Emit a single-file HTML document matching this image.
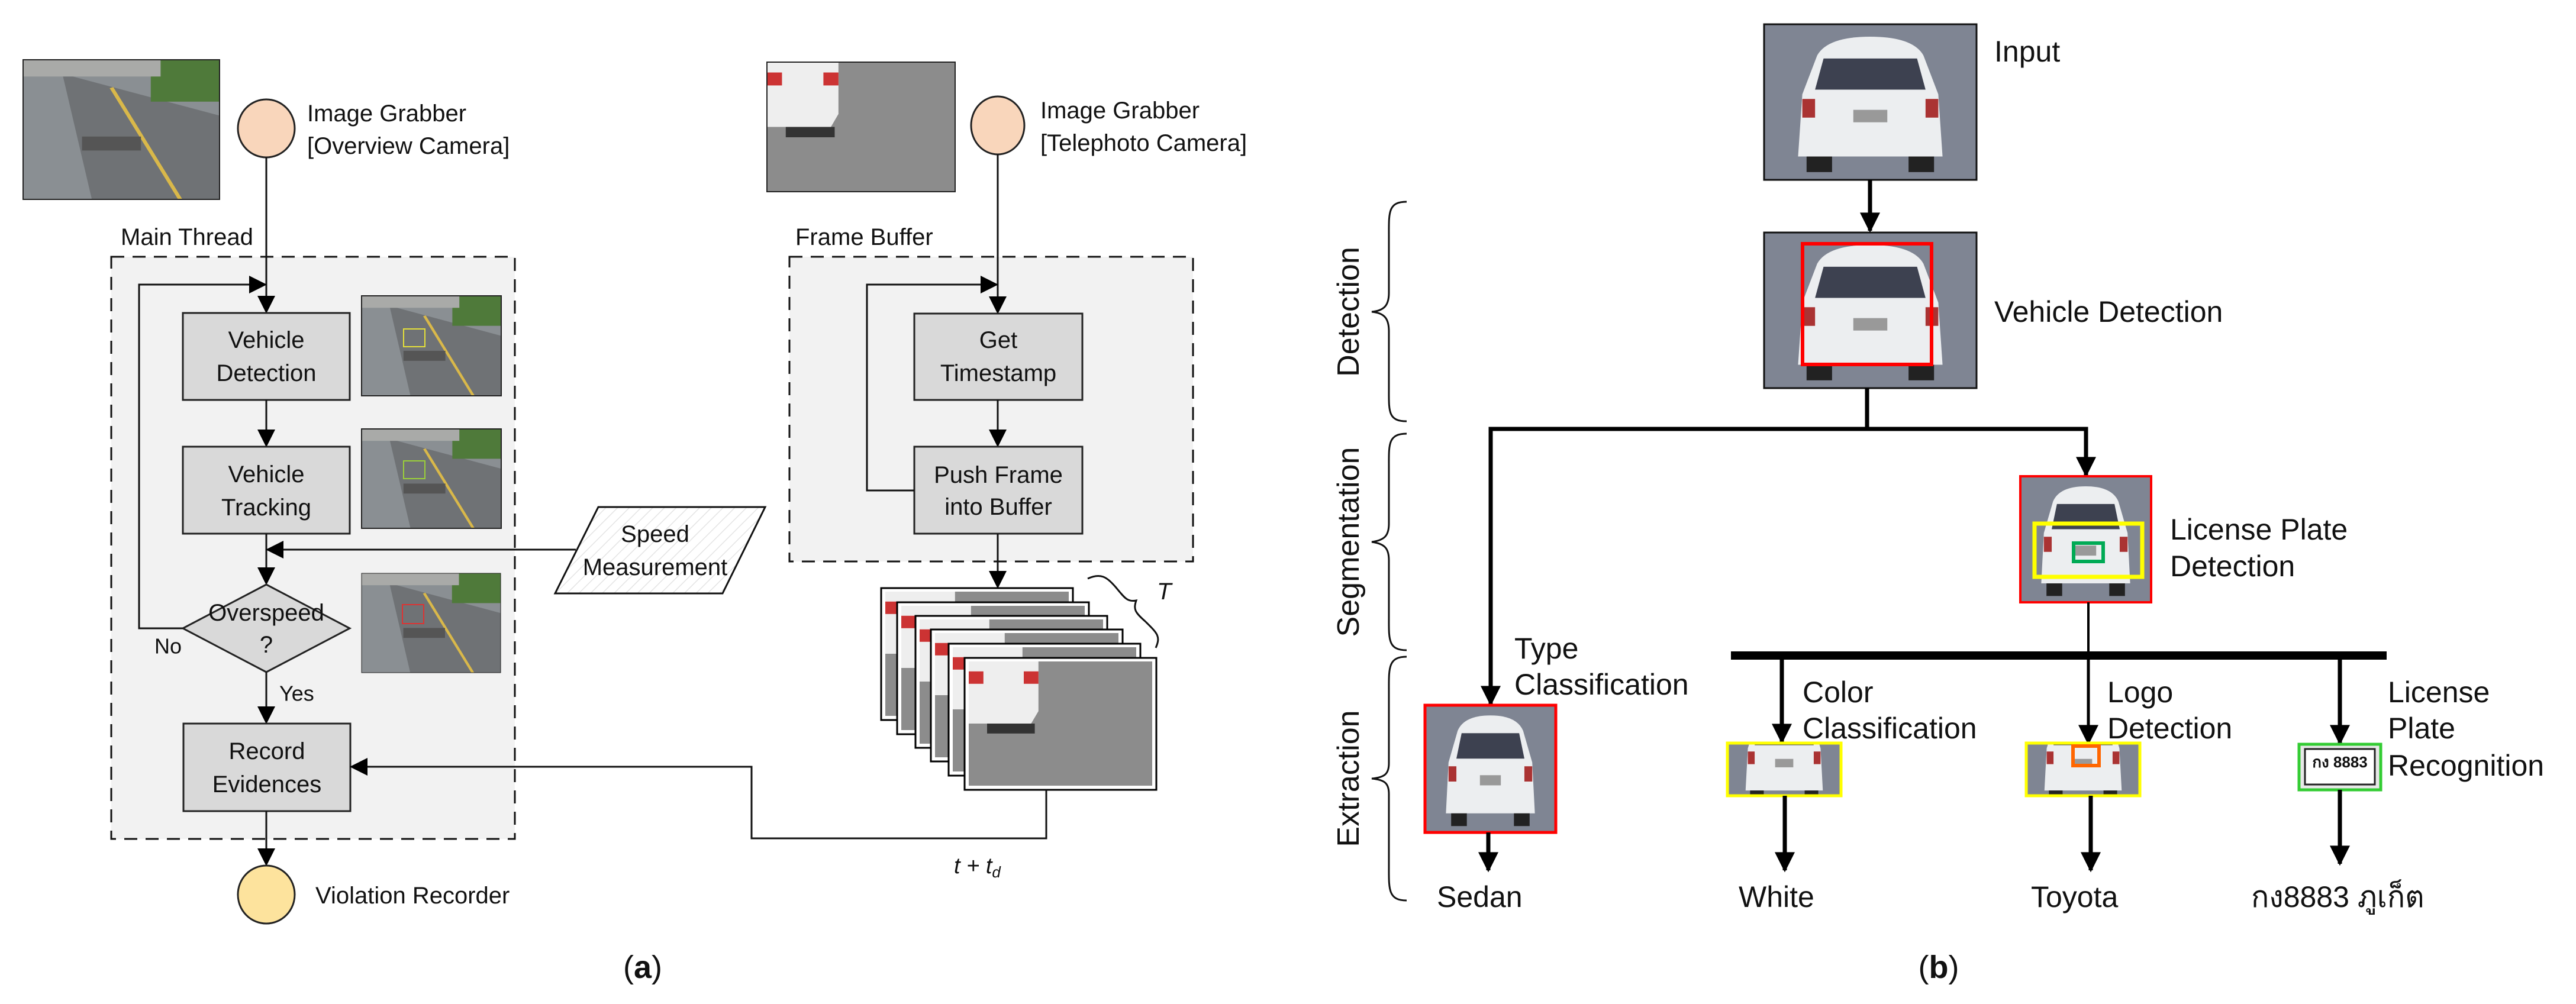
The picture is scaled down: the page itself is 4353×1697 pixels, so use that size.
<!DOCTYPE html>
<html><head><meta charset="utf-8"><style>
html,body{margin:0;padding:0;background:#fff}
svg{display:block}
text{font-family:"Liberation Sans","Noto Sans CJK SC",sans-serif;fill:#111}
</style></head><body>
<svg width="4353" height="1697" viewBox="0 0 4353 1697" xmlns="http://www.w3.org/2000/svg">
<defs>
<marker id="A" viewBox="0 0 10 10" refX="9" refY="5" markerWidth="34" markerHeight="30" orient="auto" markerUnits="userSpaceOnUse"><path d="M0,0 L10,5 L0,10 z" fill="#000"/></marker>
<marker id="B" viewBox="0 0 10 10" refX="9" refY="5" markerWidth="40" markerHeight="34" orient="auto" markerUnits="userSpaceOnUse"><path d="M0,0 L10,5 L0,10 z" fill="#000"/></marker>
<pattern id="h" width="14" height="14" patternUnits="userSpaceOnUse" patternTransform="rotate(45)"><rect width="14" height="14" fill="#fff"/><line x1="0" y1="0" x2="0" y2="14" stroke="#e4e4e4" stroke-width="3"/></pattern>
<symbol id="road" viewBox="0 0 100 100" preserveAspectRatio="none">
<rect width="100" height="100" fill="#8a8f93"/>
<path d="M20,10 L100,40 L100,100 L35,100 Z" fill="#6f7275"/>
<rect x="65" y="0" width="35" height="30" fill="#4f7a3a"/>
<rect x="0" y="0" width="70" height="12" fill="#a9aaa8"/>
<path d="M45,20 L80,100" stroke="#d9b84a" stroke-width="2"/>
<rect x="30" y="55" width="30" height="10" fill="#555"/>
</symbol>
<symbol id="car" viewBox="0 0 100 100" preserveAspectRatio="none">
<rect width="100" height="100" fill="#7f8593"/>
<path d="M25,20 Q30,8 50,8 Q70,8 75,20 L82,45 L84,85 L16,85 L18,45 Z" fill="#eceef0"/>
<path d="M28,22 L72,22 L76,42 L24,42 Z" fill="#3d4150"/>
<rect x="42" y="55" width="16" height="8" fill="#999"/>
<rect x="18" y="48" width="6" height="12" fill="#a33"/><rect x="76" y="48" width="6" height="12" fill="#a33"/>
<rect x="20" y="85" width="12" height="10" fill="#222"/><rect x="68" y="85" width="12" height="10" fill="#222"/>
</symbol>
<symbol id="tele" viewBox="0 0 100 100" preserveAspectRatio="none">
<rect width="100" height="100" fill="#8c8c8c"/>
<path d="M0,0 L38,0 L38,40 L34,50 L0,50 Z" fill="#eeeeee"/>
<rect x="0" y="8" width="8" height="10" fill="#c33"/><rect x="30" y="8" width="8" height="10" fill="#c33"/>
<rect x="10" y="50" width="26" height="8" fill="#333"/>
</symbol>
</defs>

<!-- ===== (a) ===== -->
<svg x="39" y="101" width="332" height="236"><use href="#road" width="332" height="236"/></svg>
<rect x="39" y="101" width="332" height="236" fill="none" stroke="#222" stroke-width="2"/>
<ellipse cx="450" cy="217" rx="48" ry="49" fill="#f9d6bb" stroke="#222" stroke-width="3"/>
<text x="519" y="192" font-size="40" dominant-baseline="central">Image Grabber</text>
<text x="519" y="247" font-size="40" dominant-baseline="central">[Overview Camera]</text>

<text x="204" y="401" font-size="40" dominant-baseline="central">Main Thread</text>
<rect x="188" y="434" width="682" height="984" fill="#f2f2f2" stroke="#111" stroke-width="3" stroke-dasharray="22,14"/>

<line x1="450" y1="266" x2="450" y2="527" stroke="#111" stroke-width="3" marker-end="url(#A)"/>
<rect x="309" y="529" width="282" height="147" fill="#d9d9d9" stroke="#222" stroke-width="3"/>
<text x="450" y="575" font-size="40" text-anchor="middle" dominant-baseline="central">Vehicle</text>
<text x="450" y="631" font-size="40" text-anchor="middle" dominant-baseline="central">Detection</text>
<svg x="611" y="500" width="236" height="169"><use href="#road" width="236" height="169"/></svg>
<rect x="611" y="500" width="236" height="169" fill="none" stroke="#222" stroke-width="2"/>
<rect x="682" y="556" width="36" height="30" fill="none" stroke="#e5e03a" stroke-width="2"/>

<line x1="450" y1="676" x2="450" y2="753" stroke="#111" stroke-width="3" marker-end="url(#A)"/>
<rect x="309" y="755" width="282" height="147" fill="#d9d9d9" stroke="#222" stroke-width="3"/>
<text x="450" y="802" font-size="40" text-anchor="middle" dominant-baseline="central">Vehicle</text>
<text x="450" y="858" font-size="40" text-anchor="middle" dominant-baseline="central">Tracking</text>
<svg x="611" y="725" width="236" height="168"><use href="#road" width="236" height="168"/></svg>
<rect x="611" y="725" width="236" height="168" fill="none" stroke="#222" stroke-width="2"/>
<rect x="682" y="779" width="36" height="30" fill="none" stroke="#9bd03a" stroke-width="2"/>

<line x1="450" y1="902" x2="450" y2="986" stroke="#111" stroke-width="3" marker-end="url(#A)"/>
<polygon points="450,988 591,1062 450,1136 309,1062" fill="#d9d9d9" stroke="#222" stroke-width="3"/>
<text x="450" y="1036" font-size="40" text-anchor="middle" dominant-baseline="central">Overspeed</text>
<text x="450" y="1090" font-size="40" text-anchor="middle" dominant-baseline="central">?</text>
<svg x="611" y="969" width="235" height="168"><use href="#road" width="235" height="168"/></svg>
<rect x="611" y="969" width="235" height="168" fill="none" stroke="#222" stroke-width="1"/>
<rect x="680" y="1022" width="36" height="32" fill="none" stroke="#d33" stroke-width="2"/>

<polyline points="309,1062 235,1062 235,481 448,481" fill="none" stroke="#111" stroke-width="3" marker-end="url(#A)"/>
<text x="261" y="1092" font-size="36" dominant-baseline="central">No</text>
<line x1="450" y1="1136" x2="450" y2="1221" stroke="#111" stroke-width="3" marker-end="url(#A)"/>
<text x="472" y="1172" font-size="36" dominant-baseline="central">Yes</text>

<rect x="310" y="1223" width="282" height="148" fill="#d9d9d9" stroke="#222" stroke-width="3"/>
<text x="451" y="1270" font-size="40" text-anchor="middle" dominant-baseline="central">Record</text>
<text x="451" y="1326" font-size="40" text-anchor="middle" dominant-baseline="central">Evidences</text>

<line x1="450" y1="1371" x2="450" y2="1461" stroke="#111" stroke-width="3" marker-end="url(#A)"/>
<ellipse cx="450" cy="1512" rx="48" ry="49" fill="#fde39d" stroke="#222" stroke-width="3"/>
<text x="533" y="1514" font-size="40" dominant-baseline="central">Violation Recorder</text>

<!-- speed measurement -->
<polygon points="1011,857 1293,857 1221,1003 938,1003" fill="url(#h)" stroke="#111" stroke-width="3"/>
<text x="1107" y="903" font-size="40" text-anchor="middle" dominant-baseline="central">Speed</text>
<text x="1107" y="959" font-size="40" text-anchor="middle" dominant-baseline="central">Measurement</text>
<line x1="973" y1="929" x2="452" y2="929" stroke="#111" stroke-width="3" marker-end="url(#A)"/>

<!-- telephoto -->
<svg x="1296" y="105" width="318" height="219"><use href="#tele" width="318" height="219"/></svg>
<rect x="1296" y="105" width="318" height="219" fill="none" stroke="#222" stroke-width="2"/>
<ellipse cx="1686" cy="212" rx="45" ry="49" fill="#f9d6bb" stroke="#222" stroke-width="3"/>
<text x="1758" y="187" font-size="40" dominant-baseline="central">Image Grabber</text>
<text x="1758" y="242" font-size="40" dominant-baseline="central">[Telephoto Camera]</text>

<text x="1344" y="401" font-size="40" dominant-baseline="central">Frame Buffer</text>
<rect x="1334" y="434" width="682" height="515" fill="#f2f2f2" stroke="#111" stroke-width="3" stroke-dasharray="22,14"/>
<line x1="1686" y1="261" x2="1686" y2="528" stroke="#111" stroke-width="3" marker-end="url(#A)"/>
<rect x="1545" y="530" width="284" height="146" fill="#d9d9d9" stroke="#222" stroke-width="3"/>
<text x="1687" y="575" font-size="40" text-anchor="middle" dominant-baseline="central">Get</text>
<text x="1687" y="631" font-size="40" text-anchor="middle" dominant-baseline="central">Timestamp</text>
<line x1="1686" y1="676" x2="1686" y2="753" stroke="#111" stroke-width="3" marker-end="url(#A)"/>
<rect x="1545" y="755" width="284" height="147" fill="#d9d9d9" stroke="#222" stroke-width="3"/>
<text x="1687" y="803" font-size="40" text-anchor="middle" dominant-baseline="central">Push Frame</text>
<text x="1687" y="857" font-size="40" text-anchor="middle" dominant-baseline="central">into Buffer</text>
<polyline points="1545,829 1465,829 1465,481 1684,481" fill="none" stroke="#111" stroke-width="3" marker-end="url(#A)"/>
<line x1="1686" y1="902" x2="1686" y2="992" stroke="#111" stroke-width="3" marker-end="url(#A)"/>

<!-- frame stack -->
<rect x="1489" y="994" width="324" height="223" fill="#fff" stroke="#000" stroke-width="3"/><svg x="1496" y="1000" width="310" height="210"><use href="#tele" width="310" height="210"/></svg>
<rect x="1516" y="1018" width="324" height="223" fill="#fff" stroke="#000" stroke-width="3"/><svg x="1523" y="1024" width="310" height="210"><use href="#tele" width="310" height="210"/></svg>
<rect x="1547" y="1041" width="324" height="223" fill="#fff" stroke="#000" stroke-width="3"/><svg x="1554" y="1047" width="310" height="210"><use href="#tele" width="310" height="210"/></svg>
<rect x="1573" y="1064" width="324" height="223" fill="#fff" stroke="#000" stroke-width="3"/><svg x="1580" y="1070" width="310" height="210"><use href="#tele" width="310" height="210"/></svg>
<rect x="1603" y="1088" width="324" height="223" fill="#fff" stroke="#000" stroke-width="3"/><svg x="1610" y="1094" width="310" height="210"><use href="#tele" width="310" height="210"/></svg>
<rect x="1630" y="1112" width="324" height="223" fill="#fff" stroke="#000" stroke-width="3"/><svg x="1637" y="1118" width="310" height="210"><use href="#tele" width="310" height="210"/></svg>
<path d="M1838,978 C1860,968 1870,975 1885,992 C1900,1010 1905,1018 1920,1015 C1915,1030 1918,1035 1935,1050 C1955,1070 1962,1075 1953,1095" fill="none" stroke="#111" stroke-width="3"/>
<text x="1955" y="1000" font-size="40" font-style="italic" dominant-baseline="central">T</text>

<polyline points="1768,1335 1768,1417 1270,1417 1270,1296 594,1296" fill="none" stroke="#111" stroke-width="3" marker-end="url(#A)"/>
<text x="1612" y="1464" font-size="38" font-style="italic" dominant-baseline="central">t + t<tspan font-size="26" dy="10">d</tspan></text>

<text x="1086" y="1635" font-size="54" font-family="Liberation Serif" text-anchor="middle" dominant-baseline="central">(<tspan font-weight="bold">a</tspan>)</text>

<!-- ===== (b) ===== -->
<svg x="2981" y="41" width="359" height="263"><use href="#car" width="359" height="263"/></svg>
<rect x="2981" y="41" width="359" height="263" fill="none" stroke="#111" stroke-width="3"/>
<text x="3370" y="87" font-size="50" dominant-baseline="central">Input</text>
<line x1="3160" y1="304" x2="3160" y2="390" stroke="#000" stroke-width="7" marker-end="url(#B)"/>

<svg x="2981" y="393" width="359" height="263"><use href="#car" width="359" height="263"/></svg>
<rect x="2981" y="393" width="359" height="263" fill="none" stroke="#111" stroke-width="3"/>
<rect x="3046" y="412" width="218" height="204" fill="none" stroke="#f00" stroke-width="6"/>
<text x="3370" y="527" font-size="50" dominant-baseline="central">Vehicle Detection</text>

<polyline points="3155,656 3155,725" fill="none" stroke="#000" stroke-width="7"/>
<polyline points="2519,1190 2519,725 3525,725 3525,803" fill="none" stroke="#000" stroke-width="7" stroke-linejoin="miter"/>
<line x1="2519" y1="1150" x2="2519" y2="1190" stroke="#000" stroke-width="7" marker-end="url(#B)"/>
<line x1="3525" y1="760" x2="3525" y2="803" stroke="#000" stroke-width="7" marker-end="url(#B)"/>

<svg x="3414" y="805" width="221" height="213"><use href="#car" width="221" height="213"/></svg>
<rect x="3414" y="805" width="221" height="213" fill="none" stroke="#f00" stroke-width="4"/>
<rect x="3438" y="885" width="182" height="90" fill="none" stroke="#ff0" stroke-width="7"/>
<rect x="3504" y="918" width="50" height="31" fill="none" stroke="#0a5" stroke-width="6"/>
<text x="3667" y="895" font-size="50" dominant-baseline="central">License Plate</text>
<text x="3667" y="957" font-size="50" dominant-baseline="central">Detection</text>

<line x1="3529" y1="1018" x2="3529" y2="1108" stroke="#000" stroke-width="4"/>
<line x1="2925" y1="1108" x2="4033" y2="1108" stroke="#000" stroke-width="14"/>
<line x1="3011" y1="1108" x2="3011" y2="1254" stroke="#000" stroke-width="7" marker-end="url(#B)"/>
<line x1="3529" y1="1108" x2="3529" y2="1256" stroke="#000" stroke-width="5" marker-end="url(#B)"/>
<line x1="3954" y1="1108" x2="3954" y2="1256" stroke="#000" stroke-width="7" marker-end="url(#B)"/>

<svg x="2408" y="1192" width="221" height="215"><use href="#car" width="221" height="215"/></svg>
<rect x="2408" y="1192" width="221" height="215" fill="none" stroke="#f00" stroke-width="5"/>
<text x="2559" y="1096" font-size="50" dominant-baseline="central">Type</text>
<text x="2559" y="1157" font-size="50" dominant-baseline="central">Classification</text>

<svg x="2919" y="1256" width="192" height="89" viewBox="0 40 100 50" preserveAspectRatio="none"><use href="#car" width="100" height="100"/></svg>
<rect x="2919" y="1256" width="192" height="89" fill="none" stroke="#ff0" stroke-width="5"/>
<text x="3046" y="1170" font-size="50" dominant-baseline="central">Color</text>
<text x="3046" y="1231" font-size="50" dominant-baseline="central">Classification</text>

<svg x="3424" y="1256" width="192" height="89" viewBox="0 40 100 50" preserveAspectRatio="none"><use href="#car" width="100" height="100"/></svg>
<rect x="3424" y="1256" width="192" height="89" fill="none" stroke="#ff0" stroke-width="5"/>
<rect x="3503" y="1261" width="44" height="33" fill="none" stroke="#f60" stroke-width="6"/>
<text x="3561" y="1170" font-size="50" dominant-baseline="central">Logo</text>
<text x="3561" y="1231" font-size="50" dominant-baseline="central">Detection</text>

<rect x="3885" y="1258" width="138" height="77" fill="#e8e8e8" stroke="#3c3" stroke-width="5"/>
<rect x="3895" y="1266" width="118" height="60" fill="#fff" stroke="#222" stroke-width="3"/>
<text x="3954" y="1288" font-size="26" font-weight="bold" text-anchor="middle" dominant-baseline="central">กง 8883</text>
<text x="4035" y="1170" font-size="50" dominant-baseline="central">License</text>
<text x="4035" y="1231" font-size="50" dominant-baseline="central">Plate</text>
<text x="4035" y="1294" font-size="50" dominant-baseline="central">Recognition</text>

<line x1="2515" y1="1407" x2="2515" y2="1471" stroke="#000" stroke-width="7" marker-end="url(#B)"/>
<line x1="3016" y1="1345" x2="3016" y2="1471" stroke="#000" stroke-width="7" marker-end="url(#B)"/>
<line x1="3533" y1="1345" x2="3533" y2="1471" stroke="#000" stroke-width="7" marker-end="url(#B)"/>
<line x1="3954" y1="1335" x2="3954" y2="1460" stroke="#000" stroke-width="7" marker-end="url(#B)"/>

<text x="2428" y="1516" font-size="50" dominant-baseline="central">Sedan</text>
<text x="2938" y="1516" font-size="50" dominant-baseline="central">White</text>
<text x="3432" y="1516" font-size="50" dominant-baseline="central">Toyota</text>
<text x="3804" y="1516" font-size="50" dominant-baseline="central">กง8883 ภูเก็ต</text>

<!-- braces -->
<g fill="none" stroke="#111" stroke-width="3">
<path d="M2377,341 C2345,341 2347,360 2347,400 L2347,495 C2347,515 2340,525 2318,527 C2340,529 2347,539 2347,560 L2347,655 C2347,695 2345,712 2377,712"/>
<path d="M2377,733 C2345,733 2347,752 2347,790 L2347,885 C2347,905 2340,913 2318,916 C2340,919 2347,927 2347,947 L2347,1042 C2347,1080 2345,1099 2377,1099"/>
<path d="M2377,1110 C2345,1110 2347,1130 2347,1170 L2347,1290 C2347,1308 2340,1314 2318,1316 C2340,1318 2347,1324 2347,1342 L2347,1462 C2347,1502 2345,1522 2377,1522"/>
</g>
<text transform="translate(2279,527) rotate(-90)" font-size="52" text-anchor="middle" dominant-baseline="central" font-family="DejaVu Sans">Detection</text>
<text transform="translate(2279,916) rotate(-90)" font-size="52" text-anchor="middle" dominant-baseline="central" font-family="DejaVu Sans">Segmentation</text>
<text transform="translate(2279,1316) rotate(-90)" font-size="52" text-anchor="middle" dominant-baseline="central" font-family="DejaVu Sans">Extraction</text>

<text x="3276" y="1635" font-size="54" font-family="Liberation Serif" text-anchor="middle" dominant-baseline="central">(<tspan font-weight="bold">b</tspan>)</text>
</svg>
</body></html>
